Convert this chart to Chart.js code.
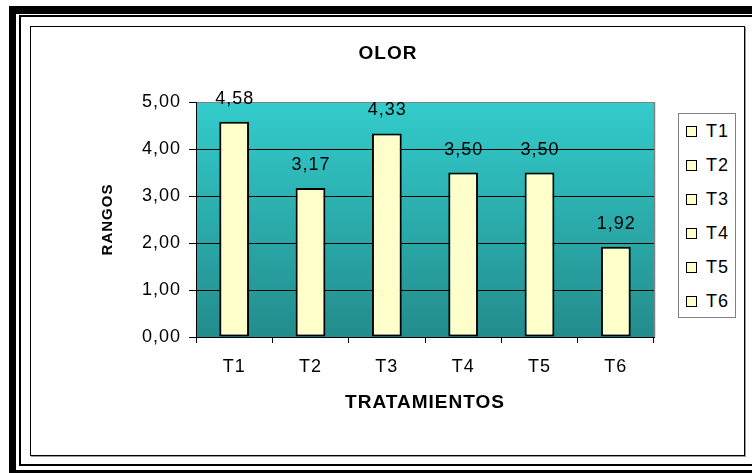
<!DOCTYPE html>
<html><head><meta charset="utf-8">
<script src="https://cdn.jsdelivr.net/npm/chart.js@4.4.1/dist/chart.umd.min.js"></script>
<style>
html,body{margin:0;padding:0;background:#fff;}
#wrap{position:relative;width:752px;height:473px;overflow:hidden;background:#fff;}
canvas{position:absolute;left:0;top:0;}
.f{position:absolute;pointer-events:none;box-sizing:border-box;}
#legend{position:absolute;left:678px;top:113px;width:58px;height:205px;border:1px solid #808080;box-sizing:border-box;background:#fff;}
.li{position:absolute;left:0;height:20px;font:18px "Liberation Sans",Arial,sans-serif;letter-spacing:1px;line-height:20px;color:#000;}
.sw{position:absolute;left:7px;top:5px;width:11px;height:11px;background:#FFFFCC;border:1.5px solid #000;box-sizing:border-box;}
.lt{position:absolute;left:27px;top:0;white-space:nowrap;}
</style></head>
<body><div id="wrap">
<canvas id="c" width="752" height="473"></canvas>
<div class="f" style="left:9px;top:6px;width:800px;height:8px;background:#000"></div>
<div class="f" style="left:9px;top:6px;width:7px;height:480px;background:#000"></div>
<div class="f" style="left:9px;top:470px;width:800px;height:10px;background:#000"></div>
<div class="f" style="left:19px;top:15px;width:800px;height:451px;border:solid #000;border-width:2px 0 2px 2px"></div>
<div class="f" style="left:30px;top:26px;width:715px;height:430px;border:1px solid #000;box-shadow:1px 1px 0 #999"></div>
<div id="legend"></div>
</div>
<script>
const categories = ['T1', 'T2', 'T3', 'T4', 'T5', 'T6'];
const values = [4.58, 3.17, 4.33, 3.50, 3.50, 1.92];
const valueLabels = ['4,58', '3,17', '4,33', '3,50', '3,50', '1,92'];
const yTickLabels = ['0,00', '1,00', '2,00', '3,00', '4,00', '5,00'];
const legendLabels = ['T1', 'T2', 'T3', 'T4', 'T5', 'T6'];

// HTML legend
const lg = document.getElementById('legend');
legendLabels.forEach((t, i) => {
  const d = document.createElement('div');
  d.className = 'li';
  d.style.top = (130 - 113 - 10 + 34 * i) + 'px';
  d.innerHTML = '<span class="sw"></span><span class="lt"></span>';
  d.querySelector('.lt').textContent = t;
  lg.appendChild(d);
});

Chart.defaults.font.family = '"Liberation Sans", Arial, sans-serif';
Chart.defaults.color = '#000';

const spacing = {
  id: 'spacing',
  beforeLayout(c) { c.ctx.letterSpacing = '1px'; },
  beforeDraw(c) { c.ctx.letterSpacing = '1px'; }
};
const plotBg = {
  id: 'plotBg',
  beforeDraw(c) {
    const {ctx, chartArea: a} = c;
    const g = ctx.createLinearGradient(0, a.top, 0, a.bottom);
    g.addColorStop(0, '#33CCCC');
    g.addColorStop(1, '#238C8C');
    ctx.save();
    ctx.fillStyle = g;
    ctx.fillRect(a.left, a.top, a.right - a.left, a.bottom - a.top);
    ctx.restore();
  },
  beforeDatasetsDraw(c) {
    const {ctx, chartArea: a} = c;
    ctx.save();
    ctx.strokeStyle = '#808080';
    ctx.lineWidth = 1.5;
    ctx.beginPath();
    ctx.moveTo(a.right + 0.5, a.top);
    ctx.lineTo(a.right + 0.5, a.bottom);
    ctx.stroke();
    ctx.restore();
  }
};
const barValueLabels = {
  id: 'barValueLabels',
  afterDatasetsDraw(c) {
    const ctx = c.ctx;
    const meta = c.getDatasetMeta(0);
    ctx.save();
    ctx.font = '18px "Liberation Sans", Arial, sans-serif';
    ctx.fillStyle = '#000';
    ctx.textAlign = 'center';
    ctx.textBaseline = 'alphabetic';
    meta.data.forEach((el, i) => ctx.fillText(valueLabels[i], el.x + 0.5, el.y - 18));
    ctx.restore();
  }
};

new Chart(document.getElementById('c'), {
  type: 'bar',
  data: {
    labels: categories,
    datasets: [{
      label: 'OLOR',
      data: values,
      backgroundColor: '#FFFFCC',
      borderColor: '#000',
      borderWidth: 2,
      borderSkipped: false,
      barPercentage: 0.39,
      categoryPercentage: 1
    }]
  },
  options: {
    responsive: false,
    animation: false,
    devicePixelRatio: 1,
    layout: {padding: {left: 122, right: 98, top: 26, bottom: 18}},
    plugins: {
      legend: {display: false},
      tooltip: {enabled: false},
      title: {
        display: true, text: 'OLOR', color: '#000',
        font: {size: 19, weight: 'bold'},
        padding: {top: 16.6, bottom: 36.6}
      }
    },
    scales: {
      x: {
        offset: true,
        grid: {display: true, drawOnChartArea: false, drawTicks: true, tickLength: 6, color: '#000', offset: true},
        border: {display: true, color: '#000', width: 1},
        ticks: {color: '#000', padding: 13, font: {size: 18}},
        title: {display: true, text: 'TRATAMIENTOS', color: '#000', font: {size: 19, weight: 'bold'}, padding: {top: 0, bottom: 40.6}},
        afterFit(s) { s.height = 118; }
      },
      y: {
        min: 0, max: 5,
        ticks: {stepSize: 1, color: '#000', padding: 8, font: {size: 18}, callback: (v, i) => yTickLabels[i]},
        grid: {color: (ctx) => (ctx.tick && ctx.tick.value === 5) ? '#808080' : '#000', tickColor: '#000', tickLength: 7},
        border: {color: '#000'},
        title: {display: true, text: 'RANGOS', color: '#000', font: {size: 15, weight: 'bold'}, padding: {top: -23, bottom: 0}},
        afterFit(s) { s.width = 74; }
      }
    }
  },
  plugins: [spacing, plotBg, barValueLabels]
});
</script>
</body></html>
